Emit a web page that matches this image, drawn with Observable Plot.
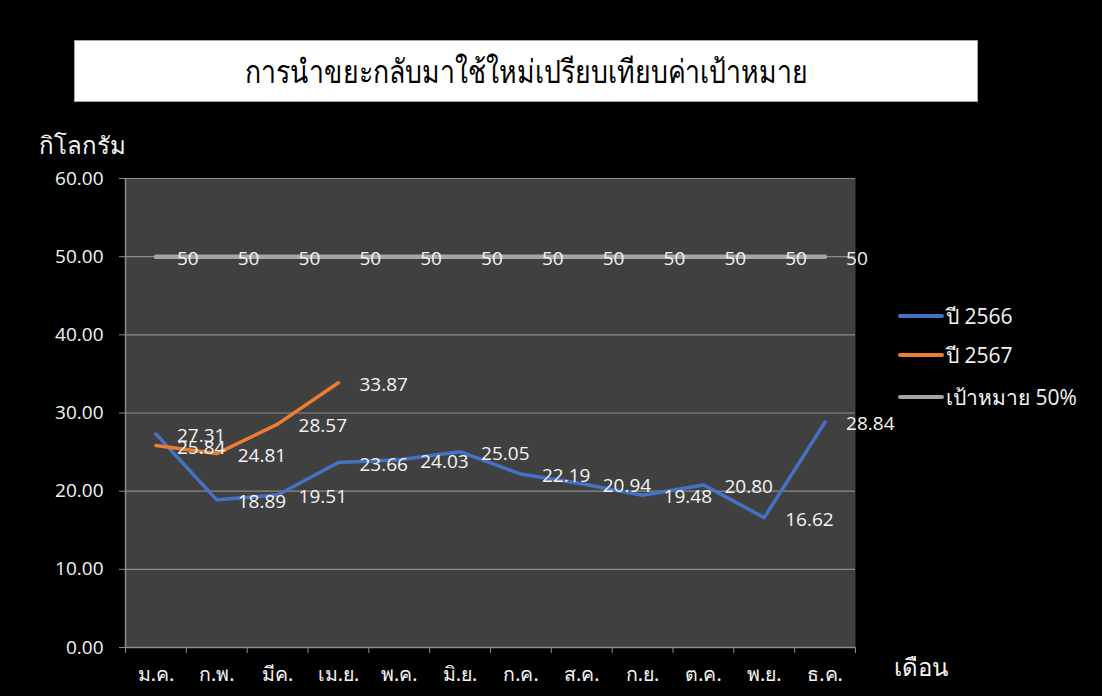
<!DOCTYPE html>
<html>
<head>
<meta charset="utf-8">
<script src="https://cdn.jsdelivr.net/npm/d3@7"></script>
<script src="https://cdn.jsdelivr.net/npm/@observablehq/plot@0.6"></script>
<style>
  html, body { margin: 0; padding: 0; background: #000; }
  #wrap { position: relative; width: 1102px; height: 696px; overflow: hidden; background: #000;
          font-family: "Open Sans", "Noto Sans", sans-serif; }
  #chart { position: absolute; left: 0; top: 0; }
  .ov { position: absolute; color: #f4f4f4; white-space: nowrap; }
  #title { position: absolute; left: 74px; top: 40px; width: 904px; height: 62px; background: #fff;
           border: 1px solid #a6a6a6; box-sizing: border-box; color: #000;
           display: flex; align-items: center; justify-content: center; }
  #title span { font-size: 30px; display: inline-block; transform: scale(0.89, 1.08); white-space: nowrap; }
  .leg { position: absolute; left: 898px; height: 24px; display: flex; align-items: center; }
  .leg .sw { width: 46px; height: 4px; border-radius: 2px; margin-right: 2px; }
  .leg .tx { color: #f4f4f4; font-size: 21px; }
</style>
</head>
<body>
<div id="wrap">
  <div id="chart"></div>
  <div id="title"><span>การนำขยะกลับมาใช้ใหม่เปรียบเทียบค่าเป้าหมาย</span></div>
  <div class="ov" style="left:39px; top:126px; font-size:24px;">กิโลกรัม</div>
  <div class="ov" style="left:894px; top:648px; font-size:24px;">เดือน</div>
  <div id="legend"></div>
</div>
<script>
const months = ["ม.ค.", "ก.พ.", "มีค.", "เม.ย.", "พ.ค.", "มิ.ย.", "ก.ค.", "ส.ค.", "ก.ย.", "ต.ค.", "พ.ย.", "ธ.ค."];
const y2566 = [27.31, 18.89, 19.51, 23.66, 24.03, 25.05, 22.19, 20.94, 19.48, 20.80, 16.62, 28.84];
const y2567 = [25.84, 24.81, 28.57, 33.87];
const target = [50, 50, 50, 50, 50, 50, 50, 50, 50, 50, 50, 50];
const seriesNames = ["ปี 2566", "ปี 2567", "เป้าหมาย 50%"];
const seriesColors = ["#4472C4", "#ED7D31", "#A5A5A5"];
const yTicks = [0, 10, 20, 30, 40, 50, 60];

const toRows = (arr, s) => arr.map((v, i) => ({i, x: i + 0.5, v, s}));
const rows2566 = toRows(y2566, seriesNames[0]);
const rows2567 = toRows(y2567, seriesNames[1]);
const rowsT = toRows(target, seriesNames[2]);
const boundaries = d3.range(months.length + 1);

const numFont = "Open Sans, Noto Sans, sans-serif";
const txt = "#f4f4f4";

const plot = Plot.plot({
  width: 1102,
  height: 696,
  marginLeft: 125,
  marginRight: 247,
  marginTop: 178,
  marginBottom: 49,
  style: {background: "transparent", color: txt, fontFamily: numFont},
  x: {type: "linear", domain: [0, months.length]},
  y: {domain: [0, 60]},
  marks: [
    Plot.frame({fill: "#404040", stroke: null}),
    Plot.gridY(yTicks, {stroke: "#8c8c8c", strokeOpacity: 1, strokeWidth: 1.2}),
    Plot.ruleX([0], {stroke: "#8c8c8c", strokeWidth: 1.5}),
    Plot.ruleY([0], {stroke: "#8c8c8c", strokeWidth: 1.5}),
    Plot.axisY(yTicks, {tickFormat: d => d.toFixed(2), tickSize: 6, tickPadding: 16, stroke: "#8c8c8c",
      fontSize: 19, fill: txt, label: null}),
    Plot.axisX(boundaries, {tickFormat: () => "", tickSize: 6, stroke: "#8c8c8c", label: null}),
    Plot.axisX(months.map((m, i) => i + 0.5), {tickFormat: d => months[Math.floor(d)], tickSize: 0,
      tickPadding: 20, fontSize: 19.5, fill: txt, label: null, fontFamily: "Noto Sans, Open Sans, sans-serif"}),
    Plot.line(rows2566, {x: "x", y: "v", stroke: seriesColors[0], strokeWidth: 3.5}),
    Plot.line(rows2567, {x: "x", y: "v", stroke: seriesColors[1], strokeWidth: 3.5}),
    Plot.line(rowsT, {x: "x", y: "v", stroke: seriesColors[2], strokeWidth: 4.5}),
    Plot.text(rows2566, {x: "x", y: "v", text: d => d.v.toFixed(2), textAnchor: "start", dx: 21, dy: 2,
      fill: txt, fontSize: 19}),
    Plot.text(rows2567, {x: "x", y: "v", text: d => d.v.toFixed(2), textAnchor: "start", dx: 21, dy: 2,
      fill: txt, fontSize: 19}),
    Plot.text(rowsT, {x: "x", y: "v", text: d => String(d.v), textAnchor: "start", dx: 21, dy: 2,
      fill: txt, fontSize: 19})
  ]
});
document.getElementById("chart").appendChild(plot);

const legend = document.getElementById("legend");
const legendTops = [304, 343, 385];
seriesNames.forEach((n, k) => {
  const d = document.createElement("div");
  d.className = "leg";
  d.style.top = legendTops[k] + "px";
  d.innerHTML = `<div class="sw" style="background:${seriesColors[k]}"></div><div class="tx">${n}</div>`;
  legend.appendChild(d);
});
</script>
</body>
</html>
